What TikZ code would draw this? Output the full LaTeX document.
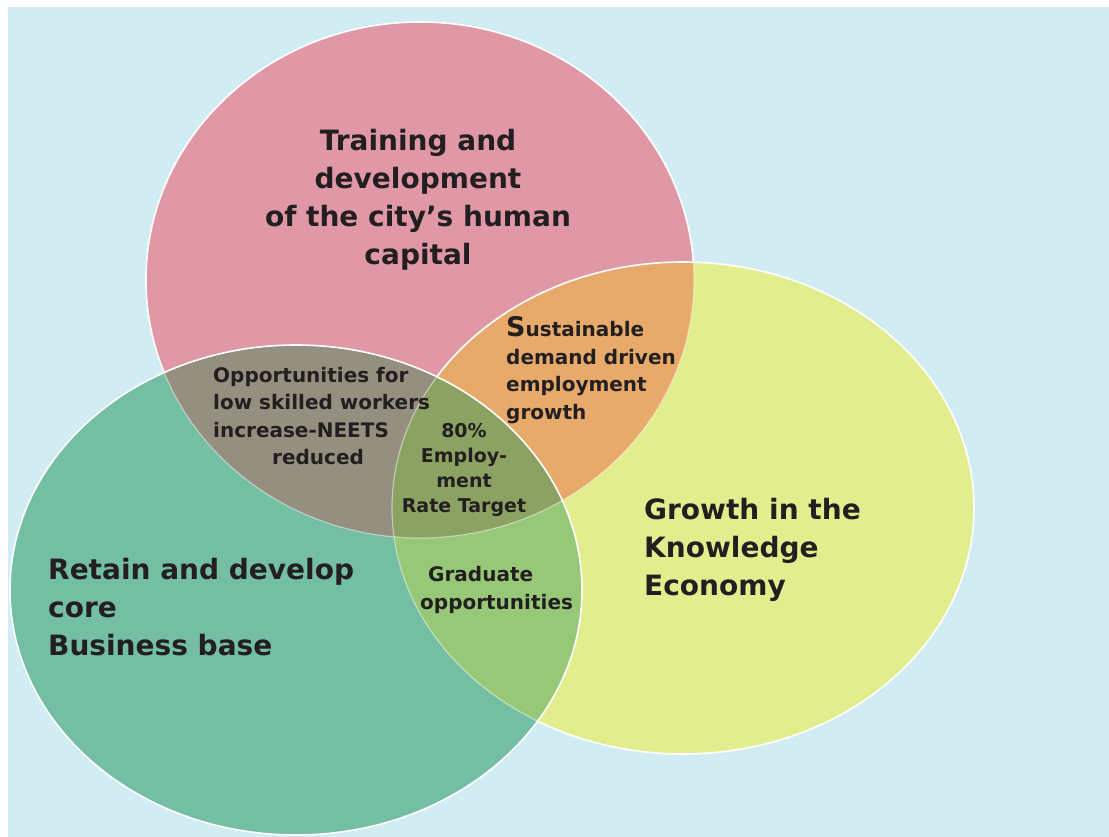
\documentclass[tikz,border=0pt]{standalone}
\usepackage{fontspec}
\setmainfont{DejaVu Sans}
\definecolor{skyback}{RGB}{209,236,242}
\definecolor{redzone}{RGB}{224,152,166}
\definecolor{yellowzone}{RGB}{226,238,142}
\definecolor{tealzone}{RGB}{116,190,164}
\definecolor{redyellow}{RGB}{232,170,106}
\definecolor{redteal}{RGB}{148,143,126}
\definecolor{yellowteal}{RGB}{150,200,120}
\definecolor{allthree}{RGB}{140,162,98}
\definecolor{inktext}{RGB}{35,31,32}
\newcommand\redpath{(420,280) ellipse [x radius=274pt, y radius=258pt]}
\newcommand\yellowpath{(683,508) ellipse [x radius=291pt, y radius=246pt]}
\newcommand\tealpath{(296,590) ellipse [x radius=286pt, y radius=245pt]}
\begin{document}
\begin{tikzpicture}[x=1pt,y=-1pt,
    rim/.style={draw=white, line width=1.6pt},
    faintrim/.style={draw=white, line width=1.2pt, draw opacity=0.45},
    bigtext/.style={inner sep=0pt, text=inktext, font=\fontsize{28}{38}\selectfont\bfseries},
    smalltext/.style={inner sep=0pt, text=inktext, font=\fontsize{20}{27.5}\selectfont\bfseries}]
  \useasboundingbox (0,0) rectangle (1109,837);
  \fill[white] (0,0) rectangle (1109,837);
  \fill[skyback] (8,7) rectangle (1109,837);
  % red ellipse
  \fill[redzone] \redpath;
  \path[rim] \redpath;
  % yellow ellipse
  \fill[yellowzone] \yellowpath;
  \begin{scope}
    \clip \yellowpath;
    \fill[redyellow] \redpath;
    \path[faintrim] \redpath;
  \end{scope}
  \path[rim] \yellowpath;
  % teal ellipse
  \fill[tealzone] \tealpath;
  \begin{scope}
    \clip \tealpath;
    \fill[redteal] \redpath;
    \fill[yellowteal] \yellowpath;
    \clip \redpath;
    \fill[allthree] \yellowpath;
  \end{scope}
  \begin{scope}
    \clip \tealpath;
    \path[faintrim] \redpath;
    \path[faintrim] \yellowpath;
  \end{scope}
  \path[rim] \tealpath;
  % labels
  \node[bigtext, align=center] (training) at (418,200)
    {Training and\\development\\of the city’s human\\capital};
  \node[smalltext, align=left, anchor=west] (sustain) at (506,370)
    {{\fontsize{27}{27}\selectfont S}ustainable\\demand driven\\employment\\growth};
  \node[smalltext, align=left, anchor=west] (lowskill) at (213,416)
    {Opportunities for\\low skilled workers\\increase-NEETS\\\hspace*{59pt}reduced};
  \node[smalltext, align=center, font=\fontsize{19}{24.7}\selectfont\bfseries] (target) at (464,470)
    {80\%\\Employ-\\ment\\Rate Target};
  \node[smalltext, align=left, anchor=west] (graduate) at (420,590)
    {\hspace*{8pt}Graduate\\opportunities};
  \node[bigtext, align=left, anchor=west] (knowledge) at (644,550)
    {Growth in the\\Knowledge\\Economy};
  \node[bigtext, align=left, anchor=west] (business) at (48,607)
    {Retain and develop\\core\\Business base};
\end{tikzpicture}
\end{document}
